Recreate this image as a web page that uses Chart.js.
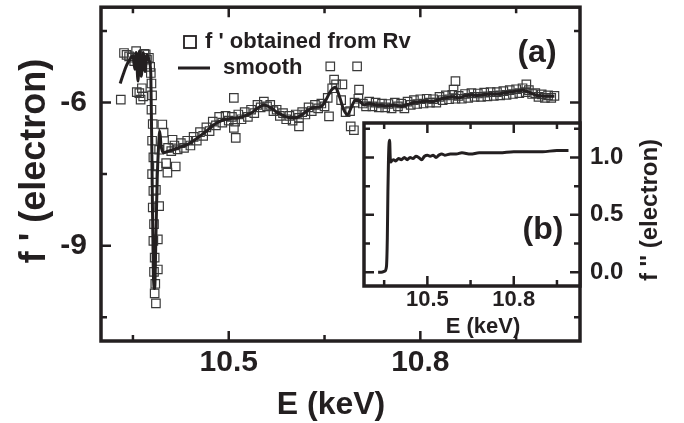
<!DOCTYPE html>
<html>
<head>
<meta charset="utf-8">
<script src="https://cdn.jsdelivr.net/npm/chart.js@4.4.0/dist/chart.umd.min.js"></script>
<style>
body { margin: 0; background: #fff; }
#wrap { position: relative; width: 684px; height: 423px; }
canvas { position: absolute; }
#chart_main { left: 0; top: 0; }
#chart_inset { left: 300px; top: 110px; }
</style>
</head>
<body>
<div id="wrap">
<canvas id="chart_main" width="684" height="423"></canvas>
<canvas id="chart_inset" width="384" height="240"></canvas>
</div>
<script>
// f' obtained from Rv (squares)
let rvE = [10.331, 10.336, 10.340, 10.344, 10.348, 10.352, 10.355, 10.358, 10.356, 10.360, 10.362, 10.364, 10.366, 10.368, 10.370, 10.372, 10.375, 10.377, 10.378,
  10.379, 10.380, 10.379, 10.381, 10.380, 10.382, 10.380, 10.382, 10.381, 10.383, 10.382, 10.384, 10.383, 10.385, 10.384, 10.386,
  10.389, 10.389, 10.391, 10.386, 10.389, 10.391, 10.396, 10.398, 10.402, 10.404, 10.412, 10.417,
  10.405, 10.410, 10.415, 10.420, 10.425, 10.430, 10.435, 10.440, 10.445, 10.450, 10.455, 10.460, 10.465, 10.470, 10.475, 10.480,
  10.485, 10.490, 10.495, 10.500, 10.505, 10.510, 10.515, 10.520, 10.525, 10.530, 10.535, 10.540, 10.545, 10.550, 10.555, 10.560,
  10.565, 10.570, 10.575, 10.580, 10.585, 10.590, 10.595, 10.600, 10.605, 10.610, 10.615, 10.620, 10.625, 10.630, 10.635, 10.640,
  10.645, 10.650, 10.655, 10.662, 10.668, 10.676, 10.683, 10.690, 10.697, 10.703, 10.710, 10.715, 10.720, 10.725, 10.730, 10.735,
  10.740, 10.745, 10.750, 10.755, 10.760, 10.765, 10.770, 10.775, 10.780, 10.785, 10.790, 10.795, 10.800, 10.805, 10.810, 10.815,
  10.820, 10.825, 10.830, 10.835, 10.840, 10.845, 10.850, 10.855, 10.860, 10.865, 10.870, 10.875, 10.880, 10.885, 10.890, 10.895,
  10.900, 10.905, 10.910, 10.915, 10.920, 10.925, 10.930, 10.935, 10.940, 10.945, 10.950, 10.955, 10.960, 10.965, 10.970, 10.975,
  10.980, 10.985, 10.990, 10.995, 11.000, 11.005, 11.010,
  10.508, 10.511, 10.508, 10.610, 10.657, 10.659, 10.701, 10.665, 10.678, 10.691, 10.696, 10.704, 10.852, 10.855, 10.966];
let rvF = [-5.94, -4.96, -5.00, -5.03, -5.06, -5.13, -4.92, -5.05, -5.78, -5.80, -5.94, -5.70, -5.87, -4.98, -4.99, -5.10, -5.06, -5.25, -5.38,
  -5.60, -5.85, -6.15, -6.45, -6.80, -7.15, -7.50, -7.85, -8.20, -8.55, -8.90, -9.25, -9.55, -9.80, -10.00, -10.21,
  -9.50, -8.87, -8.17, -7.83, -7.34, -6.99, -6.46, -6.63, -7.27, -7.47, -6.78, -7.34,
  -6.95, -7.02, -6.90, -6.98, -6.85, -6.95, -6.80, -6.90, -6.72, -6.80, -6.62, -6.70, -6.52, -6.60, -6.40, -6.48,
  -6.30, -6.42, -6.28, -6.38, -6.30, -6.40, -6.25, -6.35, -6.20, -6.30, -6.15, -6.22, -6.05, -6.10, -5.98, -6.08,
  -6.05, -6.18, -6.15, -6.28, -6.22, -6.35, -6.28, -6.38, -6.25, -6.32, -6.20, -6.25, -6.10, -6.18, -6.05, -6.12,
  -6.02, -6.08, -5.90, -5.70, -5.62, -5.95, -6.20, -6.18, -6.00, -5.92, -6.02, -6.08, -5.98, -6.08, -6.00, -6.10,
  -6.02, -6.10, -6.03, -6.12, -6.00, -6.08, -6.02, -6.12, -5.98, -6.05, -5.95, -6.03, -5.93, -6.02, -5.92, -6.00,
  -5.93, -6.00, -5.88, -5.95, -5.85, -5.93, -5.84, -5.92, -5.86, -5.92, -5.82, -5.90, -5.80, -5.88, -5.81, -5.88,
  -5.79, -5.87, -5.78, -5.86, -5.78, -5.85, -5.76, -5.84, -5.74, -5.82, -5.72, -5.80, -5.70, -5.78, -5.74, -5.82,
  -5.80, -5.88, -5.83, -5.90, -5.85, -5.90, -5.86,
  -5.90, -6.74, -6.53, -6.50, -6.29, -5.24, -5.24, -5.52, -5.62, -6.50, -6.58, -5.73, -5.73, -5.55, -5.62];

// smooth curve
let smoothE = [10.330, 10.335, 10.340, 10.345, 10.350, 10.353, 10.355, 10.358, 10.360, 10.363, 10.366, 10.369, 10.372, 10.375, 10.378,
  10.380, 10.382, 10.384, 10.386, 10.388, 10.390, 10.392, 10.394, 10.398, 10.405, 10.415, 10.425, 10.435, 10.445, 10.455, 10.465,
  10.475, 10.485, 10.495, 10.505, 10.515, 10.525, 10.535, 10.545, 10.555, 10.565, 10.575, 10.585, 10.595, 10.605, 10.615, 10.625,
  10.635, 10.645, 10.652, 10.660, 10.667, 10.674, 10.680, 10.686, 10.692, 10.698, 10.705, 10.712, 10.720, 10.730, 10.740, 10.750,
  10.760, 10.770, 10.780, 10.790, 10.800, 10.810, 10.820, 10.830, 10.840, 10.850, 10.860, 10.870, 10.880, 10.890, 10.900, 10.910,
  10.920, 10.930, 10.940, 10.950, 10.960, 10.970, 10.980, 10.990, 11.000, 11.010];
let smoothF = [-5.60, -5.40, -5.22, -5.10, -5.02, -5.30, -4.95, -5.55, -4.92, -5.45, -4.95, -5.35, -5.00, -5.10, -5.40,
  -7.50, -9.60, -9.90, -8.80, -7.60, -6.95, -6.60, -6.90, -7.05, -7.02, -6.98, -6.93, -6.88, -6.80, -6.70, -6.60,
  -6.48, -6.40, -6.35, -6.33, -6.32, -6.28, -6.22, -6.12, -6.05, -6.10, -6.20, -6.27, -6.32, -6.32, -6.25, -6.15,
  -6.10, -6.08, -5.95, -5.75, -5.68, -5.90, -6.15, -6.25, -6.10, -5.95, -5.97, -6.05, -6.02, -6.05, -6.06, -6.07,
  -6.05, -6.08, -6.04, -6.00, -5.98, -5.97, -5.98, -5.93, -5.90, -5.88, -5.90, -5.86, -5.84, -5.85, -5.83, -5.82,
  -5.82, -5.80, -5.78, -5.76, -5.74, -5.78, -5.84, -5.86, -5.87, -5.87];

// inset: f''
let fppE = [10.329, 10.340, 10.352, 10.358, 10.361, 10.363, 10.365, 10.367, 10.369, 10.371, 10.373, 10.376, 10.382, 10.390, 10.400,
  10.410, 10.420, 10.430, 10.440, 10.450, 10.460, 10.470, 10.480, 10.490, 10.500, 10.510, 10.520, 10.530, 10.540, 10.550, 10.560,
  10.580, 10.600, 10.620, 10.650, 10.680, 10.700, 10.750, 10.800, 10.850, 10.900, 10.950, 10.990];
let fppV = [0.00, 0.00, 0.01, 0.05, 0.30, 0.70, 0.98, 1.12, 1.15, 1.00, 0.96, 0.97, 0.98, 0.97, 0.99,
  0.98, 1.00, 0.98, 1.00, 0.99, 1.01, 1.00, 0.98, 1.01, 1.02, 1.01, 1.02, 1.00, 1.02, 1.03, 1.02,
  1.03, 1.03, 1.04, 1.03, 1.04, 1.04, 1.04, 1.05, 1.05, 1.05, 1.06, 1.06];

let xTicks = [10.35, 10.5, 10.65, 10.8, 10.95];
let xLabels = [10.5, 10.8];
let yTicks = [-10.5, -9, -7.5, -6, -4.5];
let yLabels = [-9, -6];
let insetYTicks = [0, 0.25, 0.5, 0.75, 1, 1.25];
let insetYLabels = [0, 0.5, 1];

const INK = '#231f20';
const FONT = '"Liberation Sans", Arial, sans-serif';
Chart.defaults.font.family = FONT;
Chart.defaults.font.weight = 'bold';
Chart.defaults.color = INK;

// keep the plot area exactly where the layout padding puts it
function noPad(s) {
  s.paddingTop = 0; s.paddingBottom = 0; s.paddingLeft = 0; s.paddingRight = 0;
}

function frameAndTicks(chart, xt, xm, yt, ym) {
  const {ctx, chartArea: a, scales: {x, y}} = chart;
  ctx.save();
  ctx.strokeStyle = INK;
  ctx.lineWidth = 2.5;
  ctx.beginPath();
  xt.forEach(v => {
    const px = x.getPixelForValue(v);
    const len = xm.includes(v) ? 10 : 6;
    ctx.moveTo(px, a.bottom); ctx.lineTo(px, a.bottom - len);
    ctx.moveTo(px, a.top); ctx.lineTo(px, a.top + len);
  });
  yt.forEach(v => {
    const py = y.getPixelForValue(v);
    const len = ym.includes(v) ? 10 : 6;
    ctx.moveTo(a.left, py); ctx.lineTo(a.left + len, py);
    ctx.moveTo(a.right, py); ctx.lineTo(a.right - len, py);
  });
  ctx.stroke();
  ctx.lineWidth = 3.5;
  ctx.strokeRect(a.left, a.top, a.right - a.left, a.bottom - a.top);
  ctx.restore();
}

function label(c, text, x, y, size, rot) {
  c.save();
  c.fillStyle = INK;
  c.font = 'bold ' + size + 'px ' + FONT;
  c.textAlign = 'center';
  c.textBaseline = 'middle';
  c.translate(x, y);
  if (rot) c.rotate(rot);
  c.fillText(text, 0, 0);
  c.restore();
}

let ctx_main = document.getElementById('chart_main');

let chart_main = new Chart(ctx_main, {
  type: 'scatter',
  data: {
    datasets: [{
      type: 'line',
      label: 'smooth',
      data: smoothE.map((e, i) => ({x: e, y: smoothF[i]})),
      borderColor: INK,
      borderWidth: 3,
      pointRadius: 0,
      cubicInterpolationMode: 'monotone',
      order: 0
    }, {
      label: "f ' obtained from Rv",
      data: rvE.map((e, i) => ({x: e, y: rvF[i]})),
      pointStyle: 'rect',
      pointRadius: 6,
      borderColor: '#3a3a3a',
      borderWidth: 1.2,
      backgroundColor: 'rgba(0,0,0,0)',
      order: 1
    }]
  },
  options: {
    responsive: false,
    animation: false,
    layout: { padding: { top: 7, right: 104, left: 0, bottom: 0 } },
    plugins: { legend: { display: false }, tooltip: { enabled: false } },
    scales: {
      x: {
        type: 'linear', min: 10.3, max: 11.05,
        grid: { display: false, drawTicks: false },
        border: { display: false },
        afterBuildTicks: s => { s.ticks = xTicks.map(v => ({value: v})); },
        afterFit: s => { s.height = 82; noPad(s); },
        ticks: { autoSkip: false, maxRotation: 0, padding: 4, font: { size: 30 },
          callback: v => xLabels.includes(v) ? v.toFixed(1) : '' }
      },
      y: {
        type: 'linear', min: -11, max: -4,
        grid: { display: false, drawTicks: false },
        border: { display: false },
        afterBuildTicks: s => { s.ticks = yTicks.map(v => ({value: v})); },
        afterFit: s => { s.width = 101; noPad(s); },
        ticks: { autoSkip: false, padding: 14, font: { size: 30 },
          callback: v => yLabels.includes(v) ? String(v) : '' }
      }
    }
  },
  plugins: [{
    id: 'mainDeco',
    afterDraw(chart) {
      frameAndTicks(chart, xTicks, xLabels, yTicks, yLabels);
      const c = chart.ctx;
      const ds = chart.data.datasets;
      label(c, 'E (keV)', 331, 405, 32);
      label(c, "f ' (electron)", 35, 161, 36, -Math.PI / 2);
      c.save();
      c.fillStyle = INK;
      c.strokeStyle = INK;
      c.font = 'bold 22px ' + FONT;
      c.textBaseline = 'middle';
      c.lineWidth = 1.8;
      c.strokeRect(184, 36, 12, 12);
      c.fillText(ds[1].label, 205, 42);
      c.lineWidth = 3;
      c.beginPath(); c.moveTo(178, 68); c.lineTo(210, 68); c.stroke();
      c.fillText(ds[0].label, 223, 68);
      c.restore();
      label(c, '(a)', 537, 53, 32);
    }
  }]
});

let ctx_inset = document.getElementById('chart_inset');

let chart_inset = new Chart(ctx_inset, {
  type: 'line',
  data: {
    datasets: [{
      label: "f ''",
      data: fppE.map((e, i) => ({x: e, y: fppV[i]})),
      borderColor: INK,
      borderWidth: 3,
      pointRadius: 0,
      cubicInterpolationMode: 'monotone'
    }]
  },
  options: {
    responsive: false,
    animation: false,
    layout: { padding: { top: 13, left: 64, right: 0, bottom: 0 } },
    plugins: { legend: { display: false }, tooltip: { enabled: false } },
    scales: {
      x: {
        type: 'linear', min: 10.28, max: 11.03,
        grid: { display: false, drawTicks: false },
        border: { display: false },
        afterBuildTicks: s => { s.ticks = xTicks.map(v => ({value: v})); },
        afterFit: s => { s.height = 64; noPad(s); },
        ticks: { autoSkip: false, maxRotation: 0, padding: 1, font: { size: 22 },
          callback: v => xLabels.includes(v) ? v.toFixed(1) : '' }
      },
      y: {
        type: 'linear', position: 'right', min: -0.12, max: 1.3,
        grid: { display: false, drawTicks: false },
        border: { display: false },
        afterBuildTicks: s => { s.ticks = insetYTicks.map(v => ({value: v})); },
        afterFit: s => { s.width = 104; noPad(s); },
        ticks: { autoSkip: false, padding: 10, font: { size: 24 },
          callback: v => insetYLabels.includes(v) ? v.toFixed(1) : '' }
      }
    }
  },
  plugins: [{
    id: 'insetDeco',
    beforeDatasetsDraw(chart) {
      const {ctx, chartArea: a} = chart;
      ctx.save();
      ctx.fillStyle = '#fff';
      ctx.fillRect(a.left, a.top, a.right - a.left, a.bottom - a.top);
      ctx.restore();
    },
    afterDraw(chart) {
      frameAndTicks(chart, xTicks, xLabels, insetYTicks, insetYLabels);
      const c = chart.ctx;
      label(c, '(b)', 243, 120, 32);
      label(c, 'E (keV)', 183, 217, 22);
      label(c, "f '' (electron)", 350, 100, 24, -Math.PI / 2);
    }
  }]
});
</script>
</body>
</html>
